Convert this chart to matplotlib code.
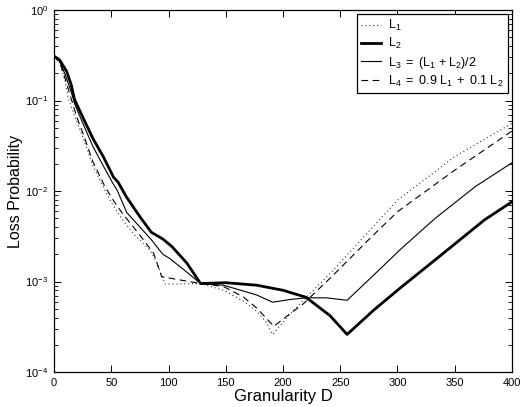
import matplotlib
matplotlib.use("Agg")
import matplotlib.pyplot as plt
from matplotlib.ticker import LogLocator, NullFormatter

plt.rcParams['font.family'] = ['Liberation Sans', 'DejaVu Sans']
plt.rcParams['mathtext.fontset'] = 'custom'
plt.rcParams['mathtext.rm'] = 'Liberation Sans'
plt.rcParams['mathtext.it'] = 'Liberation Sans:italic'
plt.rcParams['mathtext.bf'] = 'Liberation Sans:bold'

# ---- data ----
d_L1 = [0, 5, 10, 12.5, 20, 26, 34, 44, 49, 52, 60, 70, 84, 90, 97, 110, 128,
        148, 165, 177, 185, 191, 205, 221, 244, 276, 300, 350, 400]
v_L1 = [0.31, 0.26, 0.16, 0.105, 0.058, 0.037, 0.019, 0.0105, 0.0079, 0.0068, 0.0048, 0.0033,
        0.0022, 0.0016, 0.00094, 0.00094, 0.00095,
        0.00080, 0.00061, 0.00047, 0.00036, 0.00026, 0.00042, 0.00068, 0.00134, 0.0037,
        0.0079, 0.024, 0.056]

d_L2 = [0, 5, 11, 15, 18, 26, 34, 43, 52, 56, 63, 75, 85, 95, 103, 116, 128,
        150, 177, 200, 220, 241, 256, 279, 302, 340, 376, 400]
v_L2 = [0.31, 0.28, 0.21, 0.15, 0.102, 0.062, 0.038, 0.024, 0.0142, 0.0125, 0.0087, 0.0052,
        0.0035, 0.00295, 0.00243, 0.0016, 0.00095,
        0.00097, 0.00091, 0.00080, 0.00067, 0.00042, 0.00026, 0.00048, 0.00084, 0.00205,
        0.0048, 0.0076]

d_L3 = [0, 5, 10, 15, 18, 26, 34, 43, 52, 55, 63.5, 75, 85, 95, 101, 115, 128,
        148, 177, 191, 205, 220, 238, 256, 279, 302, 333, 368, 400]
v_L3 = [0.31, 0.27, 0.19, 0.125, 0.092, 0.053, 0.031, 0.019, 0.0118, 0.0103, 0.0058, 0.0040,
        0.0029, 0.0020, 0.0018, 0.0013, 0.00095,
        0.00091, 0.00071, 0.00059, 0.00063, 0.00066, 0.00066, 0.00062, 0.00117, 0.00223,
        0.0050, 0.0112, 0.0205]

d_L4 = [0, 5, 10, 14, 20, 26, 34, 44, 52, 60, 68, 78, 87, 94, 110, 128,
        148, 165, 177, 192, 205, 218, 244, 276, 300, 350, 400]
v_L4 = [0.31, 0.265, 0.17, 0.115, 0.065, 0.041, 0.021, 0.0115, 0.0078, 0.0056, 0.0042, 0.0029,
        0.00205, 0.00113, 0.00104, 0.00095,
        0.00088, 0.00068, 0.00051, 0.00032, 0.00043, 0.00057, 0.00118, 0.0030, 0.0059,
        0.017, 0.046]

labels = [r'$\mathregular{L_1}$',
          r'$\mathregular{L_2}$',
          r'$\mathregular{L_3\ =\ (L_1\,+L_2)/2}$',
          r'$\mathregular{L_4\ =\ 0.9\ L_1\;+\;0.1\ L_2}$']

x_ticks = [0, 50, 100, 150, 200, 250, 300, 350, 400]

# ---- figure ----
fig = plt.figure(figsize=(5.2, 4.07), dpi=100)
ax = fig.add_axes([54/520, 1 - 372/407, 458/520, 362/407])

ax.plot(d_L1, v_L1, color='#333333', lw=0.8, linestyle=(0, (1, 2.5)), label=labels[0])
ax.plot(d_L2, v_L2, color='black', lw=2.0, linestyle='-', label=labels[1])
ax.plot(d_L3, v_L3, color='black', lw=0.8, linestyle='-', label=labels[2])
ax.plot(d_L4, v_L4, color='black', lw=0.8, linestyle=(0, (6, 4)), label=labels[3])

ax.set_yscale('log')
ax.set_xlim(0, 400)
ax.set_ylim(1e-4, 1)
ax.set_xticks(x_ticks)
ax.yaxis.set_major_locator(LogLocator(base=10, numticks=10))
ax.yaxis.set_minor_locator(LogLocator(base=10, subs=range(2, 10), numticks=50))
ax.yaxis.set_minor_formatter(NullFormatter())

ax.tick_params(axis='both', which='major', direction='in', length=5, width=0.7,
               top=True, right=True, labelsize=8, pad=4)
ax.tick_params(axis='both', which='minor', direction='in', length=3, width=0.6,
               top=True, right=True)
for s in ax.spines.values():
    s.set_linewidth(0.9)

ax.set_xlabel('Granularity D', fontsize=12, labelpad=1)
ax.set_ylabel('Loss Probability', fontsize=11.5, labelpad=2)

leg = ax.legend(loc='upper right', fontsize=9, frameon=True, fancybox=False,
                edgecolor='black', framealpha=1, borderaxespad=0.35,
                handlelength=1.6, handletextpad=0.6, labelspacing=0.25,
                borderpad=0.3)
leg.get_frame().set_linewidth(0.9)

fig.savefig('out.png', dpi=100)
